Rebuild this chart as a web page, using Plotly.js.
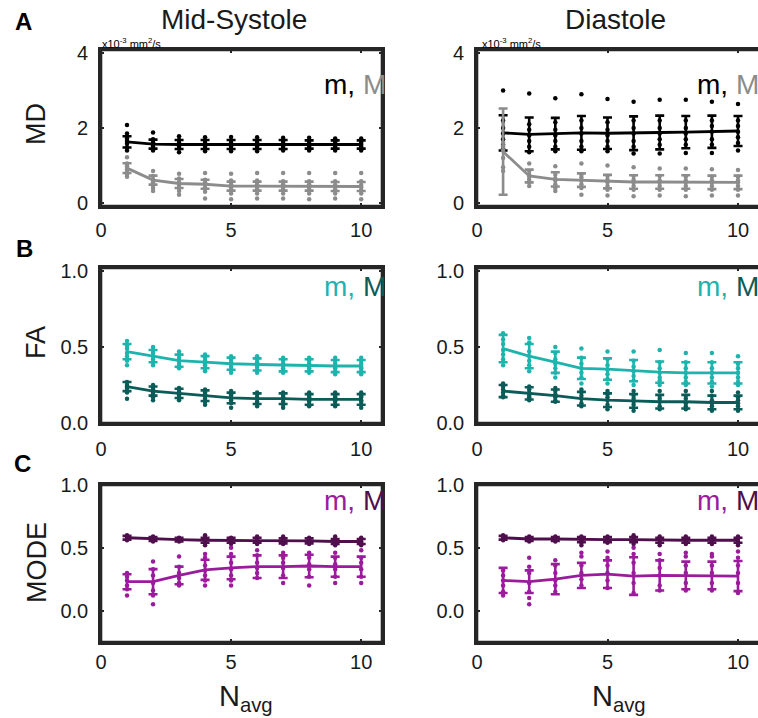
<!DOCTYPE html>
<html><head><meta charset="utf-8">
<script src="https://cdn.plot.ly/plotly-3.0.1.min.js"></script>
<style>html,body{margin:0;padding:0;overflow:hidden;background:#fff}#chart{width:770px;height:718px}</style>
</head><body><div id="chart"></div>
<script>
// ---------------- DATA ----------------
const nAvg = [1,2,3,4,5,6,7,8,9,10];
const xTicks = [0,5,10];
const mdTicks = [0,2,4];
const fracTicks = [0,0.5,1.0];
const columnTitles = ["Mid-Systole","Diastole"];
const rowLabels = ["MD","FA","MODE"];
const panelLetters = ["A","B","C"];

// Mid-Systole MD
const sysMD_m_mean = [1.63,1.57,1.56,1.56,1.56,1.56,1.56,1.56,1.56,1.56];
const sysMD_m_sd   = [0.15,0.12,0.12,0.12,0.12,0.12,0.12,0.11,0.11,0.11];
const sysMD_m_dots = [[2.08,1.85,1.72,1.65,1.58,1.48,1.4],[1.88,1.7,1.62,1.56,1.5,1.44,1.4],[1.78,1.68,1.6,1.55,1.5,1.45,1.35],[1.75,1.66,1.6,1.55,1.5,1.45,1.38],[1.76,1.66,1.6,1.55,1.5,1.44,1.38],[1.75,1.66,1.6,1.55,1.5,1.45,1.38],[1.74,1.65,1.6,1.55,1.5,1.45,1.4],[1.74,1.66,1.6,1.55,1.5,1.45,1.4],[1.72,1.65,1.6,1.55,1.5,1.45,1.4],[1.72,1.65,1.6,1.55,1.5,1.45,1.4]];
const sysMD_M_mean = [0.93,0.61,0.52,0.5,0.45,0.45,0.45,0.45,0.44,0.44];
const sysMD_M_sd   = [0.13,0.12,0.12,0.12,0.12,0.12,0.12,0.12,0.12,0.12];
const sysMD_M_dots = [[1.22,1.05,0.98,0.9,0.82,0.75,0.7],[0.85,0.72,0.62,0.55,0.48,0.4,0.32],[0.78,0.65,0.55,0.48,0.4,0.32,0.22],[0.8,0.62,0.55,0.48,0.4,0.3,0.12],[0.78,0.6,0.5,0.42,0.35,0.25,0.1],[0.8,0.6,0.5,0.42,0.35,0.25,0.12],[0.8,0.58,0.5,0.42,0.35,0.25,0.12],[0.8,0.58,0.5,0.42,0.35,0.25,0.1],[0.8,0.58,0.48,0.42,0.35,0.25,0.12],[0.8,0.58,0.48,0.42,0.34,0.25,0.1]];

// Diastole MD
const diaMD_m_mean = [1.87,1.83,1.85,1.87,1.86,1.86,1.88,1.89,1.9,1.92];
const diaMD_m_sd   = [0.47,0.45,0.42,0.45,0.42,0.45,0.45,0.43,0.43,0.4];
const diaMD_m_dots = [[3.0,2.2,2.0,1.85,1.7,1.55,1.45],[2.92,2.1,1.95,1.8,1.65,1.5,1.35],[2.79,2.15,1.95,1.8,1.65,1.5,1.38],[2.9,2.2,2.0,1.85,1.65,1.5,1.38],[2.77,2.15,1.95,1.8,1.65,1.5,1.38],[2.7,2.2,2.0,1.85,1.65,1.5,1.32],[2.75,2.2,2.0,1.85,1.7,1.55,1.32],[2.75,2.2,2.0,1.85,1.7,1.55,1.33],[2.7,2.2,2.05,1.9,1.7,1.55,1.33],[2.64,2.2,2.05,1.9,1.75,1.6,1.4]];
const diaMD_M_mean = [1.37,0.72,0.63,0.61,0.57,0.56,0.56,0.56,0.55,0.55];
const diaMD_M_sd   = [1.15,0.17,0.19,0.18,0.18,0.18,0.18,0.18,0.18,0.18];
const diaMD_M_dots = [[1.6,1.5,1.4,1.2,0.95,0.85],[1.05,0.85,0.75,0.7,0.62,0.55,0.45],[0.98,0.75,0.65,0.6,0.5,0.4,0.32],[1.05,0.75,0.68,0.6,0.5,0.4,0.22],[1.0,0.72,0.62,0.55,0.45,0.35,0.2],[0.95,0.72,0.62,0.55,0.45,0.35,0.18],[0.92,0.72,0.6,0.55,0.45,0.35,0.2],[0.92,0.7,0.6,0.55,0.45,0.35,0.18],[0.9,0.7,0.6,0.55,0.45,0.35,0.2],[0.88,0.7,0.6,0.55,0.45,0.35,0.2]];

// Mid-Systole FA
const sysFA_m_mean = [0.47,0.44,0.41,0.4,0.39,0.385,0.38,0.38,0.375,0.375];
const sysFA_m_sd   = [0.05,0.04,0.04,0.04,0.04,0.04,0.04,0.04,0.04,0.04];
const sysFA_m_dots = [[0.54,0.51,0.49,0.46,0.44,0.41,0.38],[0.5,0.48,0.46,0.44,0.42,0.4,0.38],[0.47,0.45,0.43,0.41,0.39,0.37,0.36],[0.45,0.43,0.41,0.39,0.38,0.36,0.34],[0.44,0.42,0.4,0.39,0.37,0.35,0.33],[0.44,0.42,0.4,0.38,0.37,0.35,0.33],[0.43,0.41,0.39,0.38,0.36,0.35,0.33],[0.43,0.41,0.39,0.37,0.36,0.34,0.33],[0.43,0.41,0.39,0.37,0.36,0.34,0.32],[0.43,0.41,0.39,0.37,0.36,0.34,0.32]];
const sysFA_M_mean = [0.24,0.21,0.195,0.18,0.165,0.16,0.16,0.155,0.155,0.155];
const sysFA_M_sd   = [0.03,0.03,0.03,0.035,0.035,0.035,0.035,0.035,0.035,0.035];
const sysFA_M_dots = [[0.27,0.25,0.24,0.23,0.21,0.2,0.16],[0.25,0.23,0.22,0.2,0.19,0.17,0.15],[0.23,0.21,0.2,0.19,0.18,0.16,0.15],[0.22,0.2,0.19,0.18,0.16,0.14,0.12],[0.21,0.19,0.18,0.16,0.15,0.13,0.1],[0.2,0.19,0.17,0.16,0.14,0.13,0.11],[0.2,0.18,0.17,0.16,0.14,0.12,0.1],[0.2,0.18,0.17,0.15,0.14,0.12,0.11],[0.2,0.18,0.17,0.15,0.14,0.12,0.11],[0.2,0.18,0.17,0.15,0.14,0.12,0.1]];

// Diastole FA
const diaFA_m_mean = [0.49,0.44,0.4,0.36,0.355,0.345,0.335,0.33,0.33,0.33];
const diaFA_m_sd   = [0.09,0.08,0.07,0.07,0.07,0.07,0.07,0.07,0.07,0.07];
const diaFA_m_dots = [[0.59,0.55,0.52,0.48,0.45,0.42,0.38],[0.56,0.53,0.47,0.44,0.41,0.38,0.34],[0.5,0.46,0.42,0.39,0.36,0.33,0.3],[0.49,0.43,0.39,0.36,0.33,0.3,0.26],[0.47,0.42,0.38,0.35,0.32,0.29,0.26],[0.47,0.41,0.37,0.34,0.31,0.28,0.25],[0.48,0.4,0.36,0.33,0.3,0.28,0.25],[0.46,0.4,0.36,0.33,0.3,0.27,0.25],[0.46,0.4,0.36,0.33,0.3,0.27,0.24],[0.44,0.39,0.36,0.33,0.3,0.27,0.25]];
const diaFA_M_mean = [0.21,0.195,0.18,0.16,0.15,0.145,0.14,0.14,0.135,0.135];
const diaFA_M_sd   = [0.04,0.04,0.04,0.045,0.045,0.045,0.045,0.045,0.045,0.045];
const diaFA_M_dots = [[0.26,0.24,0.22,0.2,0.18,0.17],[0.24,0.22,0.2,0.18,0.17,0.15],[0.23,0.21,0.19,0.17,0.15,0.14],[0.22,0.2,0.18,0.16,0.13,0.11],[0.21,0.19,0.17,0.15,0.12,0.09],[0.21,0.18,0.16,0.14,0.12,0.08],[0.21,0.18,0.16,0.14,0.11,0.09],[0.21,0.18,0.16,0.13,0.11,0.09],[0.21,0.18,0.15,0.13,0.11,0.08],[0.2,0.17,0.15,0.13,0.11,0.08]];

// Mid-Systole MODE
const sysMODE_m_mean = [0.23,0.23,0.28,0.325,0.34,0.35,0.35,0.355,0.35,0.35];
const sysMODE_m_sd   = [0.06,0.1,0.07,0.08,0.09,0.09,0.09,0.09,0.08,0.08];
const sysMODE_m_dots = [[0.3,0.27,0.24,0.2,0.17,0.12],[0.39,0.33,0.28,0.22,0.16,0.12,0.05],[0.43,0.35,0.3,0.26,0.22,0.2],[0.45,0.42,0.36,0.32,0.28,0.24,0.2],[0.5,0.45,0.38,0.33,0.28,0.24,0.2],[0.48,0.44,0.38,0.34,0.3,0.26],[0.46,0.42,0.38,0.34,0.28,0.22],[0.46,0.42,0.37,0.33,0.27,0.2],[0.46,0.42,0.37,0.33,0.27,0.22],[0.48,0.42,0.38,0.33,0.27,0.22]];
const sysMODE_M_mean = [0.58,0.57,0.565,0.56,0.56,0.56,0.555,0.555,0.55,0.55];
const sysMODE_M_sd   = [0.015,0.015,0.015,0.02,0.02,0.02,0.02,0.02,0.02,0.02];
const sysMODE_M_dots = [[0.6,0.59,0.58,0.57,0.56],[0.59,0.58,0.57,0.56,0.55],[0.58,0.57,0.56,0.56,0.55],[0.6,0.58,0.56,0.54,0.52],[0.58,0.57,0.56,0.55,0.53],[0.59,0.58,0.56,0.55,0.53],[0.59,0.57,0.56,0.54,0.53],[0.58,0.57,0.55,0.54,0.53],[0.59,0.57,0.55,0.54,0.52],[0.58,0.57,0.55,0.54,0.52]];

// Diastole MODE
const diaMODE_m_mean = [0.24,0.23,0.25,0.28,0.29,0.275,0.28,0.28,0.28,0.275];
const diaMODE_m_sd   = [0.1,0.09,0.12,0.1,0.11,0.15,0.12,0.11,0.11,0.12];
const diaMODE_m_dots = [[0.32,0.28,0.24,0.2,0.15,0.12],[0.42,0.35,0.3,0.22,0.15,0.1,0.05],[0.4,0.36,0.3,0.24,0.2,0.15],[0.46,0.43,0.36,0.3,0.25,0.2],[0.47,0.42,0.36,0.3,0.24,0.18],[0.5,0.45,0.38,0.3,0.22,0.14],[0.45,0.4,0.34,0.28,0.2,0.16],[0.46,0.43,0.36,0.3,0.22,0.16],[0.45,0.43,0.36,0.3,0.22,0.16],[0.47,0.42,0.36,0.3,0.22,0.14]];
const diaMODE_M_mean = [0.58,0.57,0.57,0.565,0.565,0.565,0.56,0.56,0.56,0.56];
const diaMODE_M_sd   = [0.015,0.015,0.015,0.02,0.02,0.02,0.02,0.02,0.02,0.02];
const diaMODE_M_dots = [[0.6,0.59,0.58,0.57,0.56],[0.59,0.58,0.57,0.56,0.55],[0.59,0.58,0.57,0.56,0.55],[0.59,0.58,0.56,0.54,0.52],[0.59,0.57,0.56,0.55,0.54],[0.6,0.58,0.56,0.55,0.53],[0.59,0.57,0.56,0.54,0.52],[0.59,0.57,0.56,0.55,0.53],[0.59,0.57,0.56,0.54,0.53],[0.59,0.57,0.55,0.54,0.52]];

// ---------------- STYLE / LAYOUT ----------------
const C = {
  mdm:'#000000', mdM:'#8c8c8c',
  fam:'#1fb3ad', faM:'#0b5c58',
  mom:'#9a1c9c', moM:'#4e0f4c'
};
const FONT = 'Liberation Sans, Arial, Helvetica, sans-serif';
const W = 770, H = 718;
const colPx = [[101,382],[477,770]];
const rowPx = [[50,206],[268,423],[485,642]];
const xRanges = [[0,10.8],[0,(770-477)/26.1]];
const yRanges = [[-0.08,4.08],[0,1.02],[-0.25,1.0]];
const yTickSets = [mdTicks, fracTicks, fracTicks];
const yFormats = ['d','.1f','.1f'];
const xStandoff = [4,6,0];

const panels = [
  {r:0,c:0,series:[[sysMD_m_mean,sysMD_m_sd,sysMD_m_dots,C.mdm],[sysMD_M_mean,sysMD_M_sd,sysMD_M_dots,C.mdM]]},
  {r:0,c:1,series:[[diaMD_m_mean,diaMD_m_sd,diaMD_m_dots,C.mdm],[diaMD_M_mean,diaMD_M_sd,diaMD_M_dots,C.mdM]]},
  {r:1,c:0,series:[[sysFA_m_mean,sysFA_m_sd,sysFA_m_dots,C.fam],[sysFA_M_mean,sysFA_M_sd,sysFA_M_dots,C.faM]]},
  {r:1,c:1,series:[[diaFA_m_mean,diaFA_m_sd,diaFA_m_dots,C.fam],[diaFA_M_mean,diaFA_M_sd,diaFA_M_dots,C.faM]]},
  {r:2,c:0,series:[[sysMODE_M_mean,sysMODE_M_sd,sysMODE_M_dots,C.moM],[sysMODE_m_mean,sysMODE_m_sd,sysMODE_m_dots,C.mom]]},
  {r:2,c:1,series:[[diaMODE_M_mean,diaMODE_M_sd,diaMODE_M_dots,C.moM],[diaMODE_m_mean,diaMODE_m_sd,diaMODE_m_dots,C.mom]]}
];
const legendColors = [[C.mdm,C.mdM],[C.fam,C.faM],[C.mom,C.moM]];

const traces = [];
const layout = {
  width: W, height: H, margin:{l:0,r:0,t:0,b:0},
  paper_bgcolor:'#fff', plot_bgcolor:'#fff', showlegend:false,
  font:{family:FONT, color:'#1a1a1a'}, annotations:[], shapes:[]
};

panels.forEach((p,i)=>{
  const k = i+1, xa = 'x'+(k===1?'':k), ya = 'y'+(k===1?'':k);
  p.series.forEach(s=>{
    const [mean,sd,dots,color] = s;
    const dx=[], dy=[];
    dots.forEach((arr,j)=>arr.forEach(v=>{dx.push(nAvg[j]); dy.push(v);}));
    traces.push({type:'scatter',mode:'markers',x:dx,y:dy,xaxis:xa,yaxis:ya,
      marker:{color:color,size:4.5},hoverinfo:'skip'});
    traces.push({type:'scatter',mode:'lines',x:nAvg,y:mean,xaxis:xa,yaxis:ya,
      line:{color:color,width:2.8},
      error_y:{type:'data',array:sd,visible:true,color:color,thickness:2.6,width:4.5}});
  });
  const axBase = {showline:true, mirror:'ticks', linecolor:'#262626', linewidth:2.6,
    ticks:'inside', ticklen:3, tickwidth:1.5, tickcolor:'#262626',
    showgrid:false, zeroline:false, fixedrange:true,
    tickfont:{family:FONT,size:20,color:'#1a1a1a'}};
  layout['xaxis'+(k===1?'':k)] = Object.assign({}, axBase, {
    anchor:ya, domain:[colPx[p.c][0]/W, colPx[p.c][1]/W], range:xRanges[p.c],
    tickmode:'array', tickvals:xTicks, ticktext:xTicks.map(String), ticklabelstandoff:xStandoff[p.r]});
  layout['yaxis'+(k===1?'':k)] = Object.assign({}, axBase, {
    anchor:xa, domain:[1-rowPx[p.r][1]/H, 1-rowPx[p.r][0]/H], range:yRanges[p.r],
    tickmode:'array', tickvals:yTickSets[p.r], tickformat:yFormats[p.r], ticklabelstandoff:6});
  // box frame (MATLAB-style axes box)
  layout.shapes.push({type:'rect', xref:xa+' domain', yref:ya+' domain', x0:0, x1:1, y0:0, y1:1,
    line:{color:'#262626', width:2.6}, fillcolor:'rgba(0,0,0,0)', layer:'above'});
});

function ann(text, px, py, opts){
  layout.annotations.push(Object.assign({text:text, x:px/W, y:1-py/H, xref:'paper', yref:'paper',
    showarrow:false, xanchor:'center', yanchor:'middle', font:{family:FONT,size:20,color:'#1a1a1a'}}, opts||{}));
}
// column titles
ann(columnTitles[0], 234, 19, {font:{family:FONT,size:28,color:'#1a1a1a'}});
ann(columnTitles[1], 615, 19, {font:{family:FONT,size:28,color:'#1a1a1a'}});
// panel letters
[[23,21],[24,248],[22,463]].forEach((pp,i)=>ann('<b>'+panelLetters[i]+'</b>',pp[0],pp[1],{font:{family:FONT,size:24,color:'#000'}}));
// row labels
[[36,124],[36,343],[37,563]].forEach((pp,i)=>ann(rowLabels[i],pp[0],pp[1],{textangle:-90,font:{family:FONT,size:27,color:'#1a1a1a'}}));
// units
ann('x10<sup>-3</sup> mm<sup>2</sup>/s',100,43,{xanchor:'left',font:{family:FONT,size:11,color:'#000000'}});
ann('x10<sup>-3</sup> mm<sup>2</sup>/s',480,43,{xanchor:'left',font:{family:FONT,size:11,color:'#000000'}});
// m, M labels
[85,287,500].forEach((py,r)=>{
  const t = '<span style="color:'+legendColors[r][0]+'">m,</span> <span style="color:'+legendColors[r][1]+'">M</span>';
  ann(t,322,py,{xanchor:'left',font:{family:FONT,size:28}});
  ann(t,695,py,{xanchor:'left',font:{family:FONT,size:28}});
});
// x labels
ann('N<sub>avg</sub>',246,698,{font:{family:FONT,size:29,color:'#1a1a1a'}});
ann('N<sub>avg</sub>',619,698,{font:{family:FONT,size:29,color:'#1a1a1a'}});

Plotly.newPlot('chart', traces, layout, {displayModeBar:false});
</script>
</body></html>
